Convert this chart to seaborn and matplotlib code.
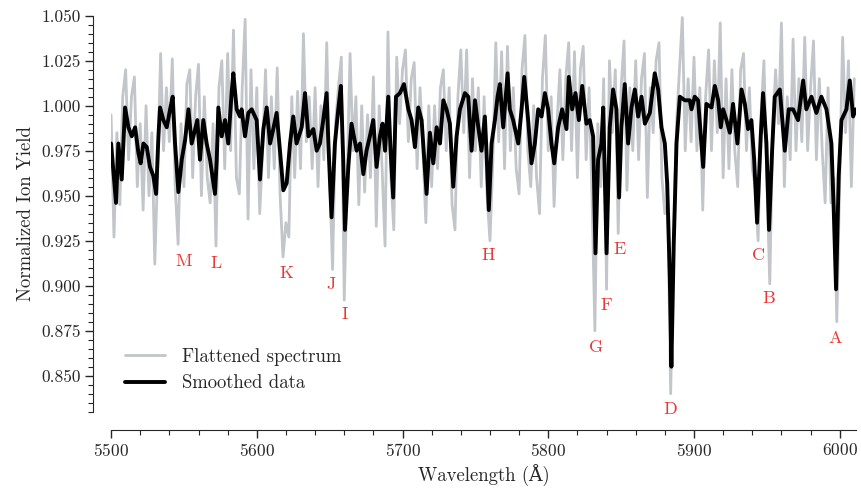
import numpy as np
import matplotlib
matplotlib.use('Agg')
import matplotlib.pyplot as plt
from matplotlib.ticker import MultipleLocator
import seaborn as sns

# Сглаженный спектр (длина волны, Å / нормированный выход ионов)
smooth_wl = [
    5500.0, 5503.4, 5505.0, 5507.3, 5509.6, 5511.9, 5514.2, 5516.5, 5518.7, 5520.3,
    5522.2, 5524.5, 5526.7, 5529.0, 5530.9, 5532.5, 5533.6, 5535.9, 5538.2, 5540.5,
    5542.3, 5543.9, 5546.2, 5548.5, 5550.8, 5553.1, 5555.3, 5559.2, 5561.0, 5563.3,
    5565.6, 5567.9, 5571.3, 5572.5, 5573.6, 5575.9, 5578.2, 5580.4, 5582.7, 5583.9,
    5586.2, 5588.4, 5589.6, 5591.9, 5594.2, 5596.5, 5599.9, 5602.2, 5604.5, 5606.8,
    5609.1, 5611.3, 5613.6, 5615.9, 5618.2, 5620.5, 5622.8, 5625.0, 5627.3, 5630.8,
    5633.1, 5635.4, 5638.8, 5641.1, 5643.3, 5645.6, 5647.9, 5649.1, 5651.3, 5653.6,
    5655.9, 5657.7, 5659.3, 5660.5, 5662.8, 5665.0, 5668.5, 5670.8, 5673.1, 5675.3,
    5677.6, 5679.9, 5682.2, 5684.5, 5686.3, 5688.0, 5690.2, 5691.8, 5693.6, 5695.5,
    5698.2, 5701.0, 5704.0, 5706.2, 5708.5, 5710.8, 5713.1, 5716.5, 5718.8, 5721.1,
    5723.4, 5725.7, 5728.0, 5730.2, 5732.5, 5734.8, 5737.1, 5739.4, 5742.8, 5745.1,
    5747.4, 5749.7, 5752.0, 5754.2, 5756.5, 5757.6, 5759.2, 5761.1, 5763.4, 5765.2,
    5766.8, 5769.1, 5772.1, 5773.6, 5775.9, 5779.4, 5781.7, 5783.5, 5786.2, 5788.5,
    5790.8, 5793.1, 5795.4, 5797.7, 5799.9, 5802.2, 5804.1, 5806.8, 5809.5, 5812.5,
    5814.1, 5816.4, 5818.7, 5821.0, 5823.3, 5826.2, 5828.5, 5830.8, 5832.4, 5834.2,
    5836.5, 5837.7, 5840.0, 5842.2, 5844.5, 5846.8, 5848.6, 5850.2, 5852.5, 5854.8,
    5857.1, 5859.4, 5861.7, 5864.0, 5866.3, 5869.7, 5873.1, 5875.4, 5877.7, 5880.0,
    5881.6, 5883.4, 5884.5, 5886.1, 5888.0, 5890.3, 5893.7, 5897.1, 5898.3, 5900.5,
    5902.8, 5906.3, 5908.5, 5912.0, 5914.3, 5916.6, 5918.4, 5920.0, 5922.3, 5924.6,
    5926.8, 5929.8, 5932.6, 5934.9, 5937.1, 5939.4, 5941.3, 5943.3, 5945.8, 5947.4,
    5949.7, 5951.5, 5953.6, 5955.4, 5958.9, 5962.3, 5965.0, 5968.0, 5971.4, 5974.9,
    5977.1, 5980.6, 5984.0, 5987.4, 5990.9, 5994.3, 5995.9, 5997.5, 5999.3, 6001.2,
    6004.6, 6006.9, 6009.2, 6011.0,
]
smooth_flux = [
    0.979, 0.946, 0.979, 0.959, 0.999, 0.988, 0.983, 0.988, 0.974, 0.968,
    0.979, 0.977, 0.966, 0.961, 0.951, 0.983, 0.999, 0.992, 0.988, 0.998,
    1.005, 0.979, 0.952, 0.970, 0.981, 0.998, 0.979, 0.992, 0.970, 0.992,
    0.979, 0.970, 0.951, 0.970, 0.999, 0.983, 0.992, 0.979, 1.007, 1.018,
    0.998, 0.994, 0.998, 0.983, 0.996, 0.998, 0.992, 0.959, 0.987, 0.999,
    0.979, 0.987, 0.996, 0.975, 0.953, 0.957, 0.979, 0.994, 0.979, 0.988,
    1.007, 0.983, 0.987, 0.975, 0.979, 0.992, 1.007, 0.979, 0.938, 0.979,
    0.998, 1.011, 0.970, 0.931, 0.966, 0.990, 0.975, 0.979, 0.962, 0.975,
    0.983, 0.992, 0.966, 0.983, 0.990, 0.975, 1.005, 0.975, 0.949, 1.005,
    1.007, 1.012, 0.998, 0.992, 0.977, 0.999, 0.992, 0.951, 0.985, 0.968,
    0.988, 0.979, 1.003, 0.998, 0.990, 0.955, 0.983, 0.998, 1.007, 1.005,
    0.975, 1.003, 0.988, 0.975, 0.994, 0.975, 0.942, 0.979, 0.992, 1.005,
    1.012, 0.988, 1.018, 0.998, 0.992, 0.979, 0.998, 1.016, 0.992, 0.968,
    0.979, 0.998, 0.994, 1.007, 0.998, 0.979, 0.968, 0.988, 0.998, 0.987,
    1.016, 0.998, 1.007, 0.992, 1.011, 0.990, 0.992, 0.983, 0.918, 0.970,
    0.979, 0.999, 0.918, 0.988, 1.009, 0.998, 0.949, 0.988, 1.012, 0.979,
    0.999, 1.009, 0.994, 1.005, 0.990, 0.996, 1.018, 1.009, 0.988, 0.979,
    0.957, 0.905, 0.855, 0.923, 0.979, 1.005, 1.003, 1.003, 0.998, 1.005,
    1.003, 0.966, 1.001, 0.999, 1.011, 1.003, 0.988, 0.998, 0.992, 0.985,
    1.001, 0.979, 1.009, 1.001, 0.987, 0.992, 0.970, 0.935, 0.983, 1.007,
    0.979, 0.931, 0.975, 1.005, 1.009, 0.975, 0.998, 0.998, 0.992, 1.014,
    0.998, 1.005, 0.996, 1.005, 0.998, 0.979, 0.942, 0.898, 0.961, 0.992,
    0.998, 1.014, 0.994, 0.998,
]

# Исходный (выровненный) спектр, шаг 2 Å от 5500 до 6010
raw_flux = [
    0.995, 0.927, 0.985, 0.945, 1.005, 1.020, 0.970, 1.005, 1.016, 0.955,
    0.990, 0.942, 1.000, 0.950, 0.985, 0.912, 0.965, 1.029, 0.975, 1.010,
    0.980, 1.026, 0.955, 0.923, 0.990, 0.955, 1.012, 1.020, 0.960, 1.005,
    1.023, 0.950, 1.005, 0.960, 0.946, 0.990, 0.922, 1.010, 1.025, 0.965,
    1.029, 0.975, 1.042, 0.960, 0.951, 1.010, 1.048, 0.937, 1.020, 0.965,
    1.010, 0.940, 0.975, 1.020, 0.960, 1.005, 0.965, 1.021, 0.950, 0.916,
    0.935, 0.927, 1.005, 0.960, 1.008, 0.965, 1.040, 0.980, 1.005, 0.965,
    1.010, 0.955, 1.000, 0.970, 1.035, 0.960, 0.909, 0.990, 1.010, 1.027,
    0.892, 0.960, 1.029, 0.975, 1.005, 0.945, 1.000, 0.952, 0.995, 0.960,
    1.016, 0.933, 1.000, 0.965, 0.922, 1.041, 0.960, 0.931, 1.027, 0.990,
    1.020, 1.031, 0.980, 1.015, 1.024, 0.965, 1.010, 0.975, 0.935, 1.000,
    0.955, 1.000, 0.965, 1.010, 1.020, 0.975, 1.010, 0.945, 0.931, 1.005,
    1.031, 0.985, 1.031, 0.960, 1.015, 0.975, 1.010, 0.955, 1.005, 0.950,
    0.925, 0.970, 1.035, 0.980, 1.030, 0.965, 1.033, 0.975, 1.010, 0.965,
    0.951, 1.020, 1.039, 0.975, 0.955, 1.000, 0.960, 0.940, 1.015, 1.039,
    0.975, 1.005, 0.944, 0.990, 1.020, 0.970, 1.015, 1.035, 0.975, 1.030,
    0.960, 1.020, 1.033, 0.970, 1.010, 0.950, 0.875, 0.990, 0.955, 1.015,
    0.898, 1.025, 0.985, 1.020, 0.929, 1.010, 1.036, 0.953, 1.010, 0.975,
    1.025, 0.970, 1.015, 1.029, 0.949, 1.010, 0.985, 1.025, 1.035, 0.960,
    0.940, 0.945, 0.840, 0.925, 0.990, 1.020, 1.049, 0.975, 1.015, 0.980,
    1.027, 0.975, 1.010, 0.942, 1.005, 1.031, 0.975, 1.025, 0.985, 1.046,
    0.960, 1.015, 0.965, 1.020, 0.975, 0.955, 1.020, 1.029, 0.975, 1.010,
    0.965, 0.955, 0.925, 0.995, 1.025, 0.960, 0.901, 0.985, 1.020, 0.990,
    1.046, 0.955, 1.005, 0.970, 1.037, 0.975, 1.015, 0.980, 1.038, 0.975,
    1.010, 1.036, 0.970, 1.015, 0.975, 0.946, 1.010, 0.946, 0.960, 0.880,
    0.960, 1.038, 0.985, 1.025, 0.955, 1.015,
]
raw_wl = np.linspace(5500, 6010, len(raw_flux))

# Подписи линий поглощения
line_names = ['M', 'L', 'K', 'J', 'I', 'H', 'G', 'F', 'E', 'D', 'C', 'B', 'A']
line_wl = [5550, 5572, 5620, 5651, 5660.5, 5759, 5833, 5840, 5849, 5884, 5944.5, 5951, 5997]
line_y = [0.9137, 0.9126, 0.907, 0.901, 0.884, 0.917, 0.866, 0.889, 0.920, 0.8315, 0.9166, 0.893, 0.871]

sns.set_style('ticks')
plt.rcParams['font.family'] = ['cmr10', 'DejaVu Serif']
plt.rcParams['mathtext.fontset'] = 'cm'
plt.rcParams['axes.formatter.use_mathtext'] = True

fig = plt.figure(figsize=(8.61, 4.88), dpi=100)
ax = fig.add_axes([0.129, 0.1564, 0.8649, 0.8114])

sns.lineplot(x=raw_wl, y=raw_flux, ax=ax, color='#c2c5c9', lw=2.0,
             label='Flattened spectrum', estimator=None, sort=False)
sns.lineplot(x=smooth_wl, y=smooth_flux, ax=ax, color='black', lw=2.8,
             label='Smoothed data', estimator=None, sort=False)

for name, x, y in zip(line_names, line_wl, line_y):
    ax.text(x, y, name, color='#ee3535', ha='center', va='center', fontsize=13)

ax.set_xlim(5500, 6011)
ax.set_ylim(0.83, 1.05)
ax.xaxis.set_major_locator(MultipleLocator(100))
ax.xaxis.set_minor_locator(MultipleLocator(20))
ax.yaxis.set_major_locator(MultipleLocator(0.025))
ax.yaxis.set_minor_locator(MultipleLocator(0.005))
ax.yaxis.set_major_formatter(matplotlib.ticker.FormatStrFormatter('%.3f'))
ax.tick_params(which='major', direction='out', length=5.5, width=1, labelsize=12.5)
ax.tick_params(which='minor', direction='out', length=3.5, width=0.8)

ax.set_xlabel('Wavelength (Å)', fontsize=13.5)
ax.set_ylabel('Normalized Ion Yield', fontsize=13.5)
ax.legend(loc='lower left', bbox_to_anchor=(0.009, 0.03), borderaxespad=0,
          frameon=False, fontsize=13.5, handlelength=2.1, handletextpad=0.9,
          labelspacing=0.45)
sns.despine(ax=ax, offset=13)

fig.savefig('out.png', dpi=100)
